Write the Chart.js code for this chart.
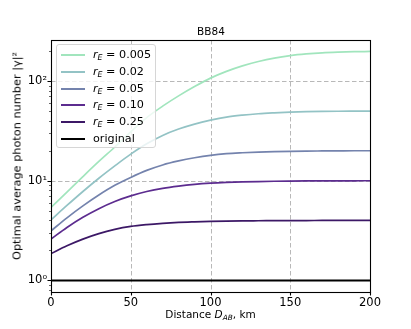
<!DOCTYPE html>
<html>
<head>
<meta charset="utf-8">
<script src="https://cdn.jsdelivr.net/npm/chart.js@4"></script>
<style>
  body { margin: 0; background: #fff; }
  #wrap { position: relative; width: 411px; height: 329px; font-family: "DejaVu Sans", sans-serif; color: #000; }
  #chart { position: absolute; left: 0; top: 0; }
  .txt { position: absolute; white-space: nowrap; }
  #title { left: 0; width: 422px; top: 25px; text-align: center; font-size: 10.5px; }
  #xlabel { left: 0; width: 421px; top: 308px; text-align: center; font-size: 10.5px; }
  #ylabel { left: 17px; top: 156px; font-size: 11.3px; transform: translate(-50%, -50%) rotate(-90deg); }
  #legend { position: absolute; left: 56px; top: 44px; width: 100px; height: 104px; box-sizing: border-box;
            border: 1px solid #d6d6d6; border-radius: 3px; background: rgba(255,255,255,0.8); }
  .row { position: absolute; left: 0; height: 16px; font-size: 11.2px; line-height: 16px; }
  .swatch { position: absolute; left: 4px; top: 7px; width: 24px; height: 2px; }
  .lbl { position: absolute; left: 36px; top: 0; white-space: nowrap; }
  sub { font-size: 70%; vertical-align: -2px; line-height: 0; font-style: italic; }
</style>
</head>
<body>
<div id="wrap">
  <canvas id="chart" width="411" height="329"></canvas>
  <div class="txt" id="title">BB84</div>
  <div class="txt" id="xlabel">Distance <i>D</i><sub>AB</sub>, km</div>
  <div class="txt" id="ylabel">Optimal average photon number |γ|²</div>
  <div id="legend"></div>
</div>
<script>
// Data
const distances = [0, 10, 20, 30, 40, 50, 60, 70, 80, 90, 100, 110, 120, 130, 140, 150, 160, 170, 180, 190, 200];
const gammaR0005 = [5.4, 7.7, 11.0, 15.6, 21.8, 31, 43, 56, 71, 88, 107, 125, 142, 157, 170, 180, 187, 192, 195, 197, 198];
const gammaR002 = [4.05, 5.65, 7.8, 10.6, 14.1, 18.5, 23.5, 28.5, 33, 37, 40.5, 43.5, 45.5, 47, 48, 48.8, 49.3, 49.6, 49.8, 49.9, 50];
const gammaR005 = [3.14, 4.25, 5.6, 7.2, 9.0, 10.8, 12.7, 14.4, 15.8, 17, 18, 18.7, 19.1, 19.4, 19.6, 19.75, 19.85, 19.9, 19.95, 20, 20];
const gammaR010 = [2.6, 3.4, 4.3, 5.25, 6.2, 7.05, 7.8, 8.4, 8.85, 9.2, 9.45, 9.62, 9.74, 9.82, 9.88, 9.92, 9.95, 9.97, 9.98, 9.99, 10];
const gammaR025 = [1.86, 2.23, 2.6, 2.95, 3.25, 3.48, 3.63, 3.74, 3.82, 3.87, 3.91, 3.94, 3.96, 3.97, 3.98, 3.99, 3.99, 4, 4, 4, 4];
const originalDist = [0, 200];
const gammaOriginal = [1, 1];

const seriesLabels = ['0.005', '0.02', '0.05', '0.10', '0.25'];
const xTicks = [0, 50, 100, 150, 200];
const yMajor = [1, 10, 100];
const yTickLabels = ['10⁰', '10¹', '10²'];
const yMinor = [0.8, 0.9, 2, 3, 4, 5, 6, 7, 8, 9, 20, 30, 40, 50, 60, 70, 80, 90, 200];

const colors = ['#a1e5bd', '#93c3c5', '#7483ad', '#5c2c8f', '#3c1866'];

function points(xs, ys) {
    return xs.map((d, i) => ({ x: d, y: ys[i] }));
}

const curves = [gammaR0005, gammaR002, gammaR005, gammaR010, gammaR025];
const datasets = curves.map((ys, i) => ({
    label: 'r_E = ' + seriesLabels[i],
    data: points(distances, ys),
    borderColor: colors[i],
    borderWidth: 1.7,
    pointRadius: 0,
    cubicInterpolationMode: 'monotone'
}));
datasets.push({
    label: 'original',
    data: points(originalDist, gammaOriginal),
    borderColor: '#000',
    borderWidth: 2,
    pointRadius: 0
});

// grid, frame and tick marks in the matplotlib look
const axesDeco = {
    id: 'axesDeco',
    beforeDatasetsDraw(chart) {
        const { ctx, chartArea: a, scales: { x, y } } = chart;
        ctx.save();
        ctx.strokeStyle = '#b0b0b0';
        ctx.lineWidth = 0.9;
        ctx.setLineDash([4.5, 2.5]);
        xTicks.slice(1, -1).forEach(v => {
            const px = Math.round(x.getPixelForValue(v)) + 0.5;
            ctx.beginPath(); ctx.moveTo(px, a.top); ctx.lineTo(px, a.bottom); ctx.stroke();
        });
        yMajor.slice(1).forEach(v => {
            const py = Math.round(y.getPixelForValue(v)) + 0.5;
            ctx.beginPath(); ctx.moveTo(a.left, py); ctx.lineTo(a.right, py); ctx.stroke();
        });
        ctx.restore();
    },
    afterDatasetsDraw(chart) {
        const { ctx, chartArea: a, scales: { x, y } } = chart;
        ctx.save();
        ctx.strokeStyle = '#000';
        ctx.lineWidth = 1.1;
        ctx.strokeRect(Math.round(a.left) + 0.5, Math.round(a.top) + 0.5,
            Math.round(a.right - a.left), Math.round(a.bottom - a.top));
        ctx.beginPath();
        xTicks.forEach(v => {
            const px = Math.round(x.getPixelForValue(v)) + 0.5;
            ctx.moveTo(px, a.bottom); ctx.lineTo(px, a.bottom + 3.5);
        });
        yMajor.forEach(v => {
            const py = Math.round(y.getPixelForValue(v)) + 0.5;
            ctx.moveTo(a.left, py); ctx.lineTo(a.left - 3.5, py);
        });
        ctx.stroke();
        ctx.lineWidth = 0.6;
        ctx.beginPath();
        yMinor.forEach(v => {
            const py = Math.round(y.getPixelForValue(v)) + 0.5;
            ctx.moveTo(a.left, py); ctx.lineTo(a.left - 2, py);
        });
        ctx.stroke();
        ctx.restore();
    }
};

new Chart(document.getElementById('chart'), {
    type: 'line',
    data: { datasets: datasets },
    options: {
        responsive: false,
        animation: false,
        events: [],
        layout: { padding: { top: 40, right: 41, left: 0, bottom: 0 } },
        plugins: { legend: { display: false }, tooltip: { enabled: false } },
        scales: {
            x: {
                type: 'linear',
                min: 0,
                max: 200,
                grid: { display: false, drawTicks: false, tickLength: 0 },
                border: { display: false },
                afterBuildTicks: scale => { scale.ticks = xTicks.map(v => ({ value: v })); },
                afterFit: scale => { scale.height = 37; },
                ticks: {
                    padding: 4,
                    maxRotation: 0,
                    color: '#000',
                    font: { family: 'DejaVu Sans', size: 11.5 }
                }
            },
            y: {
                type: 'logarithmic',
                min: 0.766,
                max: 258,
                grid: { display: false, drawTicks: false, tickLength: 0 },
                border: { display: false },
                afterBuildTicks: scale => { scale.ticks = yMajor.map(v => ({ value: v, major: true })); },
                afterFit: scale => { scale.width = 51; },
                ticks: {
                    padding: 4,
                    autoSkip: false,
                    color: '#000',
                    font: { family: 'DejaVu Sans', size: 11.5 },
                    callback: v => yTickLabels[yMajor.indexOf(v)] || ''
                }
            }
        }
    },
    plugins: [axesDeco]
});

// legend box (HTML so that r_E keeps its italic and subscript)
const legend = document.getElementById('legend');
const rowNames = seriesLabels.map(s => '<i>r</i><sub>E</sub> = ' + s).concat(['original']);
const rowColors = colors.concat(['#000']);
rowNames.forEach((name, i) => {
    const row = document.createElement('div');
    row.className = 'row';
    row.style.top = (2 + i * 16.8) + 'px';
    row.innerHTML = '<div class="swatch" style="background:' + rowColors[i] + '"></div>' +
        '<div class="lbl">' + name + '</div>';
    legend.appendChild(row);
});
</script>
</body>
</html>
